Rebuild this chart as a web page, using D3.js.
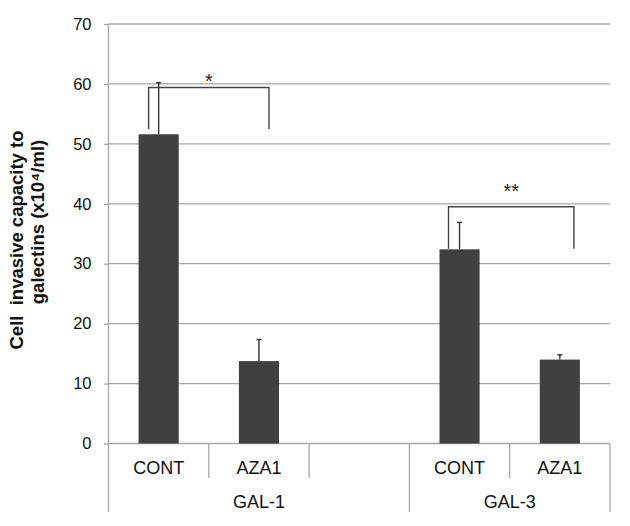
<!DOCTYPE html>
<html>
<head>
<meta charset="utf-8">
<script src="https://cdn.jsdelivr.net/npm/d3@7"></script>
<style>
  html, body { margin: 0; padding: 0; background: #fff; }
  svg { display: block; font-family: Arial, "Liberation Sans", sans-serif; }
</style>
</head>
<body>
<svg id="chart" width="630" height="526"></svg>
<script>
// ---- data ----
const categories = ["CONT", "AZA1", "", "CONT", "AZA1"];
const groups = ["GAL-1", "GAL-3"];
const groupSpans = [[0, 2], [3, 4]];          // category index ranges
const values = [51.6, 13.75, null, 32.4, 14.0];
const errors = [8.6, 3.6, null, 4.5, 0.8];
const yTicks = [0, 10, 20, 30, 40, 50, 60, 70];
const sigLabels = ["*", "**"];
const sigPairs = [[0, 1], [3, 4]];
const sigTop = [59.4, 39.5];
const sigBottom = [52.5, 32.5];
const yLabelLines = ["Cell  invasive capacity to", "galectins (x10\u2074/ml)"];

(function () {
// ---- layout ----
const pLeft = 108.5, pRight = 610, pTop = 24, pBottom = 443.5;
const svg = d3.select("#chart");

const x = d3.scaleBand().domain(d3.range(categories.length))
  .range([pLeft, pRight]).paddingInner(0.6).paddingOuter(0.3);
const step = x.step();
const slotLeft = i => pLeft + i * (pRight - pLeft) / categories.length;
const y = d3.scaleLinear().domain([0, 70]).range([pBottom, pTop]);

const grid = "#a6a6a6";

// gridlines + y axis ticks
const yAxis = d3.axisLeft(y).tickValues(yTicks).tickSize(4.5).tickPadding(12.5);
const gAxis = svg.append("g").attr("transform", `translate(${pLeft},0)`).call(yAxis);
gAxis.select(".domain").remove();
gAxis.selectAll(".tick line").attr("stroke", grid).attr("stroke-width", 1.3);
gAxis.selectAll(".tick text").attr("font-size", 16.5).attr("fill", "#111")
  .attr("font-family", "Arial, 'Liberation Sans', sans-serif");

svg.append("g").selectAll("line").data(yTicks).join("line")
  .attr("x1", pLeft).attr("x2", pRight)
  .attr("y1", d => y(d)).attr("y2", d => y(d))
  .attr("stroke", grid).attr("stroke-width", 1.3);

// y axis line (extends down through category rows)
svg.append("line").attr("x1", pLeft).attr("x2", pLeft)
  .attr("y1", pTop).attr("y2", 512).attr("stroke", grid).attr("stroke-width", 1.3);

// category separators
const innerSeps = [1, 2, 4];
const outerSeps = [3, 5];
svg.append("g").selectAll("line").data(innerSeps).join("line")
  .attr("x1", d => slotLeft(d)).attr("x2", d => slotLeft(d))
  .attr("y1", pBottom).attr("y2", 478).attr("stroke", grid).attr("stroke-width", 1.3);
svg.append("g").selectAll("line").data(outerSeps).join("line")
  .attr("x1", d => slotLeft(d)).attr("x2", d => slotLeft(d))
  .attr("y1", pBottom).attr("y2", 512).attr("stroke", grid).attr("stroke-width", 1.3);

// bars
const barData = values.map((v, i) => ({ i, v, e: errors[i] })).filter(d => d.v != null);
svg.append("g").selectAll("rect").data(barData).join("rect")
  .attr("x", d => x(d.i)).attr("width", x.bandwidth())
  .attr("y", d => y(d.v)).attr("height", d => y(0) - y(d.v))
  .attr("fill", "#404040");

// error bars (upper only)
const cx = i => x(i) + x.bandwidth() / 2;
const eb = svg.append("g").attr("stroke", "#333").attr("stroke-width", 1.4);
eb.selectAll("line.v").data(barData).join("line").attr("class", "v")
  .attr("x1", d => cx(d.i)).attr("x2", d => cx(d.i))
  .attr("y1", d => y(d.v)).attr("y2", d => y(d.v + d.e));
eb.selectAll("line.c").data(barData).join("line").attr("class", "c")
  .attr("x1", d => cx(d.i) - 2.5).attr("x2", d => cx(d.i) + 2.5)
  .attr("y1", d => y(d.v + d.e)).attr("y2", d => y(d.v + d.e));

// significance brackets
const legShift = [[-0.1, 0.1], [-0.11, 0.14]]; // fraction of a slot
const labelRaise = [-0.9, 8.4];                 // px above bracket top
const br = svg.append("g");
sigPairs.forEach((p, k) => {
  const xl = cx(p[0]) + legShift[k][0] * step;
  const xr = cx(p[1]) + legShift[k][1] * step;
  const yt = y(sigTop[k]), yb = y(sigBottom[k]);
  br.append("path")
    .attr("d", `M${xl},${yb}V${yt}H${xr}V${yb}`)
    .attr("fill", "none").attr("stroke", "#444").attr("stroke-width", 1.4);
  br.append("text").attr("x", (xl + xr) / 2).attr("y", yt - labelRaise[k])
    .attr("text-anchor", "middle").attr("font-size", 20).attr("fill", "#222")
    .text(sigLabels[k]);
});

// category labels
svg.append("g").selectAll("text").data(categories.map((c, i) => ({ c, i })).filter(d => d.c))
  .join("text")
  .attr("x", d => cx(d.i)).attr("y", 474)
  .attr("text-anchor", "middle").attr("font-size", 18).attr("fill", "#111")
  .text(d => d.c);

// group labels
svg.append("g").selectAll("text").data(groups).join("text")
  .attr("x", (d, k) => (slotLeft(groupSpans[k][0]) + slotLeft(groupSpans[k][1] + 1)) / 2)
  .attr("y", 508)
  .attr("text-anchor", "middle").attr("font-size", 18).attr("fill", "#111")
  .text(d => d);

// y label
const yl = [{ t: yLabelLines[0], x: 23, c: 240 }, { t: yLabelLines[1], x: 44, c: 222 }];
svg.append("g").selectAll("text").data(yl).join("text")
  .attr("transform", d => `translate(${d.x},${d.c}) rotate(-90)`)
  .attr("text-anchor", "middle").attr("font-size", 18.5).attr("font-weight", "bold")
  .attr("fill", "#111").style("white-space", "pre")
  .text(d => d.t);
})();
</script>
</body>
</html>
